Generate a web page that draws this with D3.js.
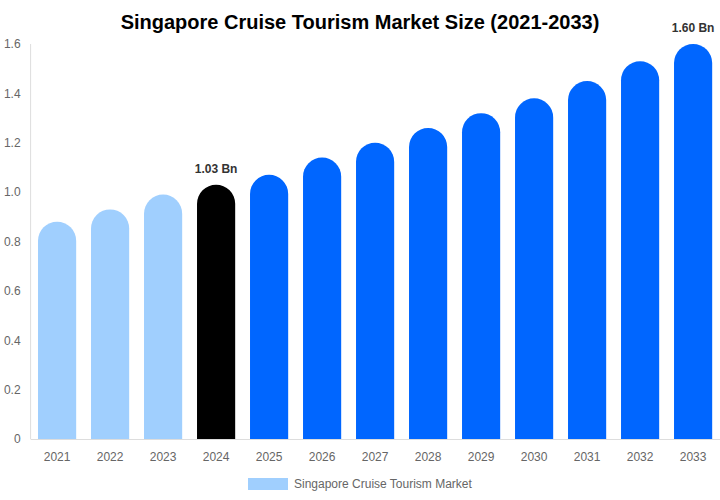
<!DOCTYPE html>
<html><head><meta charset="utf-8">
<script src="https://cdn.jsdelivr.net/npm/d3@7"></script>
<style>body{margin:0;background:#fff}svg{display:block;font-family:"Liberation Sans",Arial,sans-serif}</style>
</head><body><svg id="c" width="720" height="500"></svg>
<script>
const years = ["2021","2022","2023","2024","2025","2026","2027","2028","2029","2030","2031","2032","2033"];
const values = [0.88,0.93,0.99,1.03,1.07,1.14,1.20,1.26,1.32,1.38,1.45,1.53,1.60];
const yTicks = [0,0.2,0.4,0.6,0.8,1.0,1.2,1.4,1.6];
const labeled = {"2024":"1.03 Bn","2033":"1.60 Bn"};
const title = "Singapore Cruise Tourism Market Size (2021-2033)";
const legendLabel = "Singapore Cruise Tourism Market";

const svg = d3.select("#c");
const mLeft = 30.6, mRight = 719.6, mTop = 44, mBottom = 439;
const x = d3.scaleBand().domain(years).range([mLeft, mRight]).paddingInner(0).paddingOuter(0);
const y = d3.scaleLinear().domain([0,1.6]).range([mBottom, mTop]);
const bw = x.bandwidth()*0.72;
const color = d => +d < 2024 ? "#a0cffe" : (+d === 2024 ? "#000000" : "#0066ff");

svg.append("text").attr("x",360).attr("y",29).attr("text-anchor","middle")
  .attr("font-size",20).attr("font-weight","bold").attr("fill","#000").text(title);

svg.append("line").attr("x1",mLeft).attr("x2",mLeft).attr("y1",mTop).attr("y2",mBottom).attr("stroke","#ddd");
svg.append("line").attr("x1",mLeft).attr("x2",720).attr("y1",mBottom+0.5).attr("y2",mBottom+0.5).attr("stroke","#ddd");

const yAxis = svg.append("g").attr("transform",`translate(${mLeft-10},0)`)
  .call(d3.axisLeft(y).tickValues(yTicks).tickSize(0).tickPadding(0).tickFormat(d => d===0?"0":d3.format(".1f")(d)));
yAxis.select(".domain").remove();
yAxis.selectAll("text").attr("font-size",12).attr("fill","#666").attr("font-family","Liberation Sans, Arial, sans-serif");

const xAxis = svg.append("g").attr("transform",`translate(0,${mBottom})`)
  .call(d3.axisBottom(x).tickSize(0).tickPadding(13));
xAxis.select(".domain").remove();
xAxis.selectAll("text").attr("font-size",12).attr("fill","#666").attr("font-family","Liberation Sans, Arial, sans-serif");

function barPath(x0, w, yTop, yBot){
  const r = w/2;
  return `M${x0},${yBot} L${x0},${yTop+r} A${r},${r} 0 0 1 ${x0+w},${yTop+r} L${x0+w},${yBot} Z`;
}
svg.append("g").selectAll("path").data(years).join("path")
  .attr("d",(d,i)=>barPath(x(d)+(x.bandwidth()-bw)/2, bw, y(values[i]), mBottom))
  .attr("fill",color);

svg.append("g").selectAll("text").data(years.filter(d=>labeled[d])).join("text")
  .attr("x",d=>x(d)+x.bandwidth()/2).attr("y",d=>y(values[years.indexOf(d)])-12)
  .attr("text-anchor","middle").attr("font-size",12).attr("font-weight","bold").attr("fill","#333")
  .text(d=>labeled[d]);

svg.append("rect").attr("x",248).attr("y",478).attr("width",40).attr("height",12).attr("fill","#a0cffe");
svg.append("text").attr("x",294).attr("y",488).attr("font-size",12).attr("fill","#666").text(legendLabel);
</script></body></html>
